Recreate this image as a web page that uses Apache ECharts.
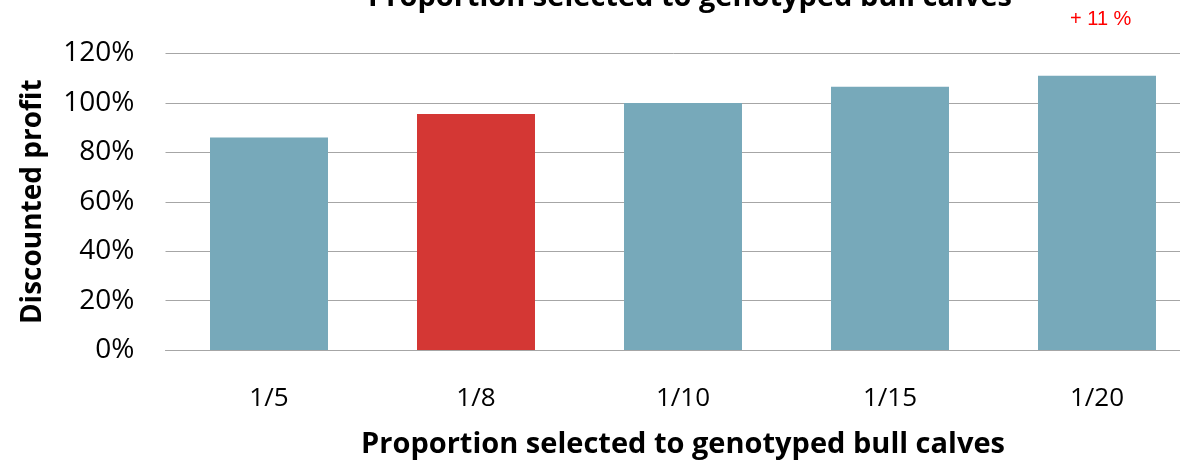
<!DOCTYPE html>
<html><head><meta charset="utf-8">
<script src="https://cdn.jsdelivr.net/npm/echarts@6/dist/echarts.min.js"></script>
<style>html,body{margin:0;padding:0;background:#fff}#c{width:1180px;height:462px}</style>
</head><body><div id="c"></div>
<script>
const categories = ['1/5', '1/8', '1/10', '1/15', '1/20'];
const profitValues = [86, 95.5, 100, 106.5, 111];
const highlightIndex = 1;
const yTicks = [0, 20, 40, 60, 80, 100, 120];
const titleText = 'Proportion selected to genotyped bull calves';
const xAxisName = 'Proportion selected to genotyped bull calves';
const yAxisName = 'Discounted profit';
const annotation = '+ 11 %';

const chart = echarts.init(document.getElementById('c'), null, {renderer: 'canvas'});
chart.setOption({
  animation: false,
  title: {
    text: titleText, left: 685, top: -22, textAlign: 'center',
    textStyle: {fontFamily: 'Open Sans, sans-serif', fontWeight: 'bold', fontSize: 29, color: '#000'}
  },
  graphic: [{
    type: 'text', left: 1070, top: 9,
    style: {text: annotation, fill: '#ff0000', font: '20px "Liberation Sans", sans-serif'}
  }],
  grid: {left: 165.5, right: -20.5, top: 53.5, bottom: 112, containLabel: false, outerBoundsMode: 'none'},
  xAxis: {
    type: 'category', data: categories,
    axisLine: {show: true, lineStyle: {color: '#a6a6a6', width: 1}},
    axisTick: {show: false},
    axisLabel: {margin: 36, fontSize: 26, color: '#000', fontFamily: 'Open Sans, sans-serif'},
    name: xAxisName, nameLocation: 'middle', nameGap: 80,
    nameTextStyle: {fontSize: 29, fontWeight: 'bold', color: '#000', fontFamily: 'Open Sans, sans-serif'}
  },
  yAxis: {
    type: 'value', min: yTicks[0], max: yTicks[yTicks.length - 1], interval: 20,
    axisLine: {show: false}, axisTick: {show: false},
    splitLine: {lineStyle: {color: '#a6a6a6', width: 1}},
    axisLabel: {formatter: v => v + '%', margin: 31, fontSize: 28, color: '#000', fontFamily: 'Open Sans, sans-serif'},
    name: yAxisName, nameLocation: 'middle', nameGap: 118, nameRotate: 90,
    nameTextStyle: {fontSize: 28, fontWeight: 'bold', color: '#000', fontFamily: 'Open Sans, sans-serif'}
  },
  series: [{
    type: 'bar', barWidth: '57%',
    data: profitValues.map((v, i) => ({value: v, itemStyle: {color: i === highlightIndex ? '#d43734' : '#77a9ba'}}))
  }]
});
</script></body></html>
